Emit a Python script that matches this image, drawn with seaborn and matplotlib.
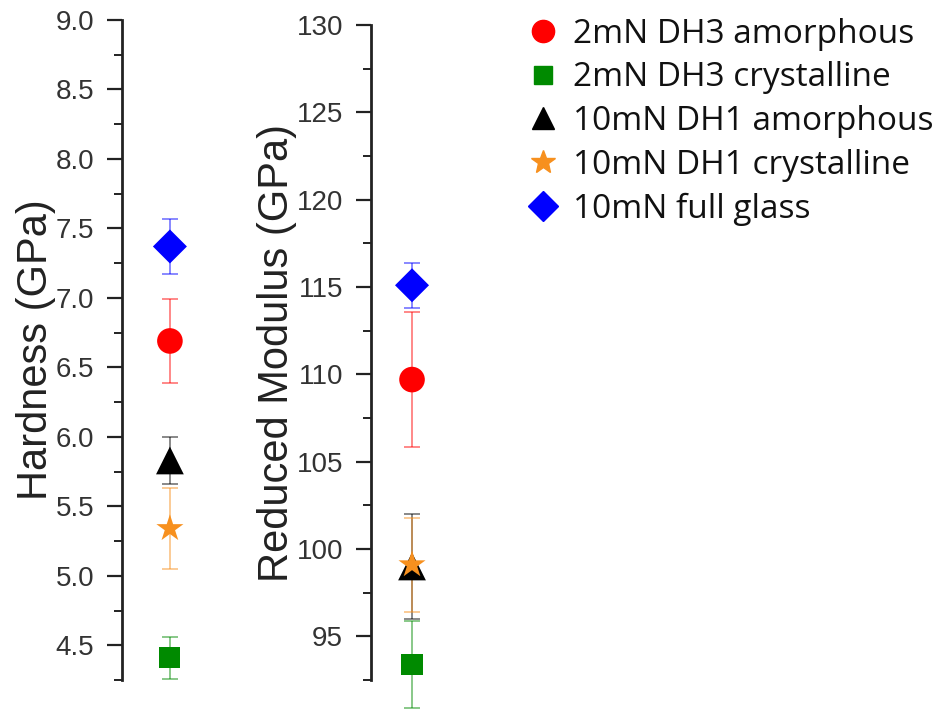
import matplotlib
matplotlib.use("Agg")
import matplotlib.pyplot as plt
from matplotlib.lines import Line2D
from matplotlib.ticker import MultipleLocator
import pandas as pd
import seaborn as sns

# Nanoindentation results per sample
samples = ["2mN DH3 amorphous", "2mN DH3 crystalline", "10mN DH1 amorphous",
           "10mN DH1 crystalline", "10mN full glass"]
hardness = [6.69, 4.41, 5.83, 5.34, 7.37]
hardness_err = [0.30, 0.15, 0.17, 0.29, 0.20]
modulus = [109.7, 93.4, 99.0, 99.1, 115.1]
modulus_err = [3.85, 2.5, 3.0, 2.7, 1.3]

colors = ["#ff0000", "#008a00", "#000000", "#f7901e", "#0000ff"]
markers = ["o", "s", "^", "*", "D"]
marker_sizes = [340, 230, 400, 420, 300]
legend_sizes = [16, 13, 16, 18, 15]

df = pd.DataFrame({"sample": samples, "hardness": hardness, "hardness_err": hardness_err,
                   "modulus": modulus, "modulus_err": modulus_err})
df["x"] = 1.0

sns.set_theme(style="white")
plt.rcParams["font.family"] = ["Liberation Sans", "DejaVu Sans"]

fig = plt.figure(figsize=(9.45, 7.09), dpi=100)
ax_h = fig.add_axes([0.129, 0.0409, 0.1016, 0.9309])
ax_m = fig.add_axes([0.3926, 0.0409, 0.0868, 0.9238])

palette = dict(zip(samples, colors))
mark_map = dict(zip(samples, markers))
size_map = dict(zip(samples, marker_sizes))


def draw_panel(ax, col, err_col, ylim, major, minor, label):
    for s, c in zip(samples, colors):
        row = df[df["sample"] == s]
        ax.errorbar(row["x"], row[col], yerr=row[err_col], fmt="none", ecolor=c,
                    alpha=0.5, elinewidth=1.3, capsize=6, capthick=1.3, zorder=1,
                    clip_on=False)
    sns.scatterplot(data=df, x="x", y=col, hue="sample", style="sample", size="sample",
                    palette=palette, markers=mark_map, sizes=size_map, linewidth=0,
                    legend=False, ax=ax, zorder=3, clip_on=False)
    ax.set_xlim(0, 2)
    ax.set_ylim(*ylim)
    ax.yaxis.set_major_locator(MultipleLocator(major))
    ax.yaxis.set_minor_locator(MultipleLocator(minor))
    for side in ("top", "right", "bottom"):
        ax.spines[side].set_visible(False)
    ax.spines["left"].set_linewidth(2.0)
    ax.spines["left"].set_color("#222222")
    ax.set_xticks([])
    ax.set_xlabel("")
    ax.tick_params(axis="y", which="major", left=True, direction="out", length=11,
                   width=1.6, color="#222222", labelsize=20, labelcolor="#333333", pad=9)
    ax.tick_params(axis="y", which="minor", left=True, direction="out", length=6,
                   width=1.4, color="#222222")
    ax.set_ylabel(label, fontsize=30, color="#222222", labelpad=0)
    ax.set_facecolor("white")


draw_panel(ax_h, "hardness", "hardness_err", (4.25, 9.0), 0.5, 0.25, "Hardness (GPa)")
draw_panel(ax_m, "modulus", "modulus_err", (92.5, 130), 5, 2.5, "Reduced Modulus (GPa)")

handles = [Line2D([], [], linestyle="none", marker=m, color=c, markersize=ms)
           for m, c, ms in zip(markers, colors, legend_sizes)]
fig.legend(handles, samples, loc="upper left", bbox_to_anchor=(0.536, 1.008), frameon=False,
           prop={"family": ["Open Sans", "DejaVu Sans"], "size": 24}, handlelength=0.8,
           handletextpad=0.5, labelspacing=0.32, borderaxespad=0.3, labelcolor="#111111")

fig.savefig("out.png", dpi=100, facecolor="white")
